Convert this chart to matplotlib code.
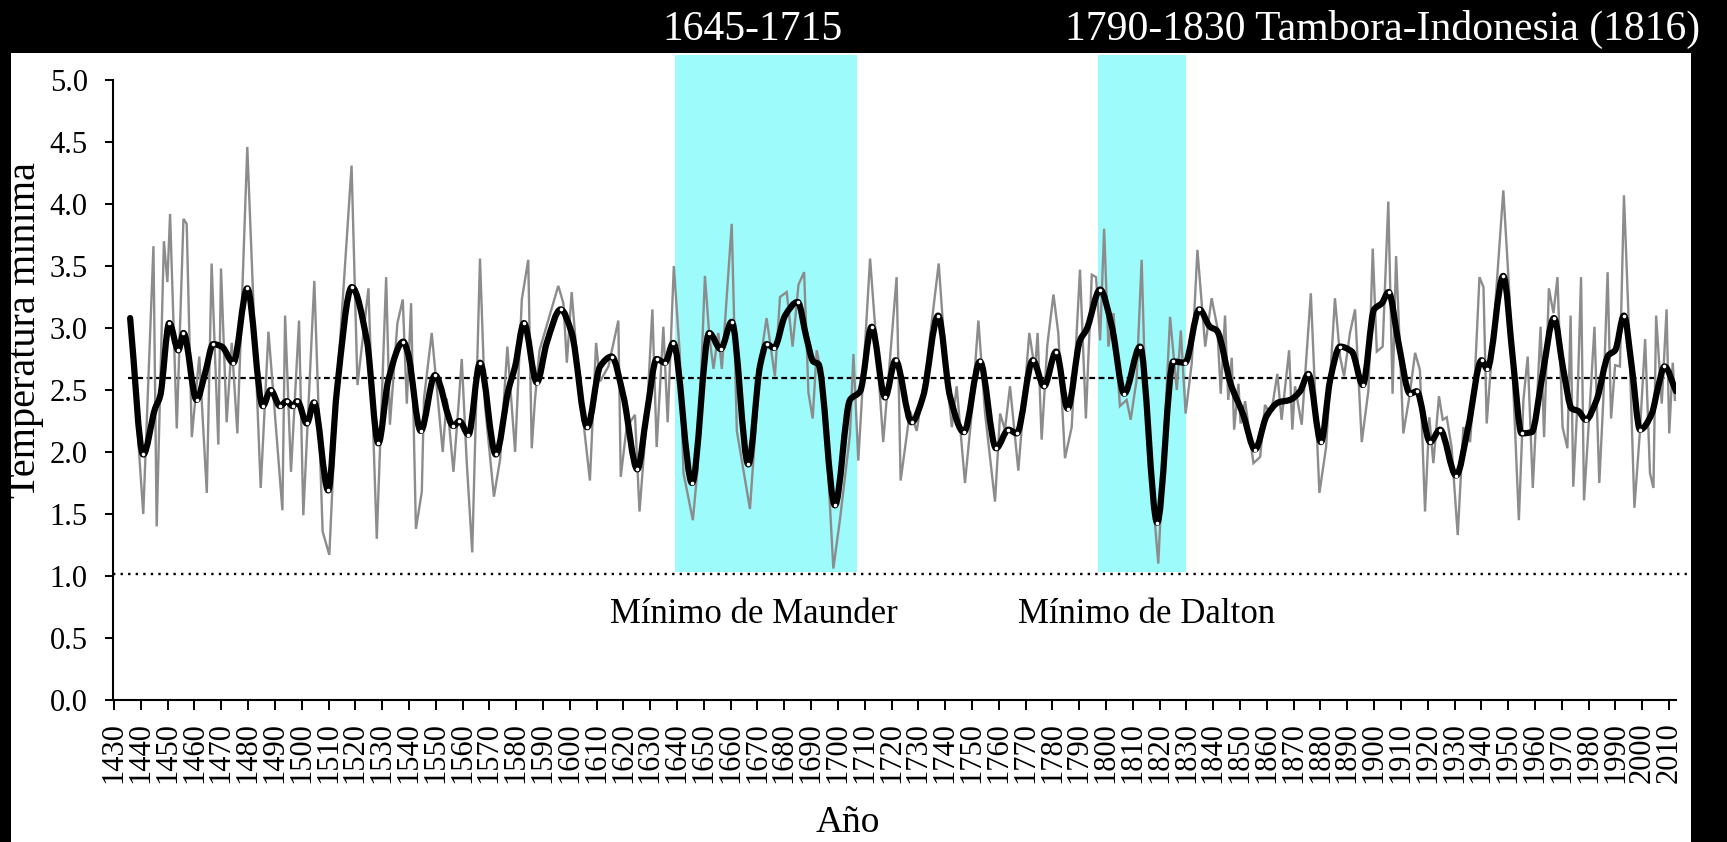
import numpy as np
import matplotlib
matplotlib.use("Agg")
import matplotlib.pyplot as plt
from matplotlib.path import Path
from matplotlib.patches import PathPatch, Rectangle

# ---------------- data ----------------
# annual minimum temperature (grey line): turning points of the series
annual_years = [
    1436.0, 1440.9, 1444.7, 1445.9, 1448.6, 1449.9, 1450.9, 1453.4, 1455.9, 1457.1,
    1459.0, 1461.8, 1464.6, 1466.4, 1468.9, 1469.9, 1472.0, 1473.9, 1476.0, 1479.7,
    1484.7, 1487.6, 1492.8, 1493.8, 1496.0, 1499.0, 1500.6, 1504.7, 1507.8, 1510.3,
    1513.1, 1518.6, 1520.8, 1524.9, 1528.0, 1531.5, 1532.9, 1535.7, 1537.7, 1539.2,
    1540.8, 1542.6, 1544.8, 1545.6, 1548.5, 1552.6, 1554.1, 1556.6, 1558.4, 1559.7,
    1561.5, 1563.6, 1566.5, 1568.4, 1571.7, 1574.0, 1576.7, 1579.6, 1582.1, 1584.5,
    1585.8, 1587.0, 1588.7, 1595.7, 1597.6, 1598.9, 1600.7, 1603.2, 1607.5, 1609.8,
    1611.3, 1614.4, 1618.1, 1619.0, 1621.2, 1624.3, 1626.0, 1628.7, 1630.8, 1632.4,
    1634.9, 1636.5, 1638.8, 1641.0, 1642.4, 1645.9, 1647.6, 1650.4, 1652.1, 1653.6,
    1655.4, 1656.7, 1660.4, 1662.3, 1667.2, 1671.0, 1673.4, 1676.5, 1678.4, 1680.9,
    1683.1, 1685.3, 1687.4, 1689.0, 1690.6, 1692.1, 1694.6, 1698.3, 1700.8, 1704.5,
    1705.8, 1707.6, 1712.0, 1714.2, 1716.9, 1721.9, 1723.4, 1726.9, 1729.4, 1733.1,
    1737.6, 1740.6, 1742.5, 1744.3, 1747.4, 1749.9, 1752.4, 1754.9, 1758.6, 1760.5,
    1762.3, 1764.2, 1767.3, 1771.4, 1773.5, 1774.5, 1776.0, 1778.1, 1780.4, 1782.2,
    1784.7, 1787.2, 1790.3, 1792.5, 1794.7, 1796.3, 1797.8, 1799.3, 1800.9, 1802.8,
    1805.2, 1807.7, 1809.2, 1811.4, 1813.3, 1814.9, 1819.5, 1823.9, 1826.4, 1827.9,
    1829.7, 1832.0, 1834.1, 1837.0, 1839.4, 1841.5, 1842.8, 1844.4, 1845.6, 1846.9,
    1847.8, 1849.4, 1850.2, 1851.9, 1855.0, 1857.5, 1859.3, 1861.2, 1862.4, 1863.9,
    1865.5, 1868.3, 1869.5, 1870.5, 1873.0, 1876.4, 1879.6, 1882.1, 1885.4, 1887.3,
    1888.8, 1891.0, 1892.9, 1895.4, 1897.9, 1899.5, 1901.0, 1903.2, 1905.3, 1906.9,
    1908.2, 1910.9, 1913.2, 1915.3, 1917.1, 1919.0, 1920.6, 1922.1, 1924.2, 1925.6,
    1927.1, 1928.9, 1931.2, 1933.3, 1935.8, 1937.7, 1939.3, 1940.8, 1942.0, 1944.2,
    1948.2, 1950.4, 1954.0, 1955.7, 1957.3, 1959.2, 1962.1, 1963.4, 1965.2, 1966.9,
    1968.4, 1970.3, 1972.1, 1973.3, 1974.3, 1975.8, 1977.2, 1978.3, 1980.3, 1982.2,
    1984.0, 1985.5, 1987.1, 1988.4, 1989.9, 1991.7, 1993.2, 1994.8, 1997.1, 1999.2,
    2001.1, 2002.9, 2004.2, 2005.2, 2007.3, 2009.1, 2010.1, 2011.4, 2012.2,
]
annual_temp = [
    3.06, 1.50, 3.66, 1.40, 3.70, 3.37, 3.92, 2.19, 3.88, 3.84,
    2.12, 2.77, 1.67, 3.52, 2.06, 3.48, 2.24, 2.88, 2.15, 4.46,
    1.71, 2.97, 1.53, 3.10, 1.84, 3.06, 1.49, 3.38, 1.36, 1.17,
    2.50, 4.31, 2.54, 3.32, 1.30, 3.41, 2.22, 3.04, 3.23, 2.39,
    3.20, 1.38, 1.68, 2.43, 2.96, 2.00, 2.43, 1.84, 2.35, 2.75,
    1.94, 1.19, 3.56, 2.37, 1.64, 1.94, 2.85, 2.00, 3.23, 3.55,
    2.03, 2.42, 2.82, 3.34, 3.20, 2.72, 3.29, 2.61, 1.77, 2.88,
    2.57, 2.69, 3.06, 1.80, 2.20, 2.30, 1.52, 2.28, 3.15, 2.04,
    3.01, 2.24, 3.50, 2.80, 1.83, 1.45, 1.85, 3.42, 2.92, 2.67,
    2.96, 2.67, 3.84, 2.17, 1.54, 2.73, 3.08, 2.61, 3.25, 3.29,
    2.85, 3.35, 3.45, 2.48, 2.27, 2.82, 2.54, 1.06, 1.46, 2.14,
    2.79, 1.93, 3.56, 2.92, 2.08, 3.41, 1.77, 2.33, 2.17, 2.70,
    3.52, 2.60, 2.20, 2.53, 1.75, 2.31, 3.06, 2.31, 1.60, 2.31,
    2.18, 2.53, 1.85, 2.96, 2.66, 2.96, 2.10, 2.86, 3.27, 2.96,
    1.95, 2.20, 3.47, 2.27, 3.43, 3.41, 2.90, 3.80, 2.85, 3.12,
    2.37, 2.42, 2.26, 2.58, 3.55, 2.31, 1.10, 3.09, 2.50, 2.98,
    2.31, 2.72, 3.63, 2.85, 3.24, 3.01, 2.47, 3.10, 2.42, 2.76,
    2.18, 2.55, 2.23, 2.41, 1.91, 1.96, 2.38, 2.31, 2.42, 2.63,
    2.26, 2.82, 2.18, 2.53, 2.22, 3.28, 1.67, 2.04, 3.24, 2.77,
    2.61, 2.96, 3.15, 2.08, 2.50, 3.64, 2.81, 2.85, 4.02, 2.47,
    3.58, 2.15, 2.45, 2.80, 2.66, 1.52, 2.28, 1.91, 2.45, 2.26,
    2.28, 2.04, 1.33, 2.20, 2.08, 2.66, 3.41, 3.33, 2.23, 2.88,
    4.11, 3.30, 1.45, 2.42, 2.77, 1.71, 3.01, 2.12, 3.32, 3.12,
    3.41, 2.20, 2.03, 3.10, 1.72, 2.37, 3.41, 1.61, 2.31, 3.01,
    1.75, 2.42, 3.45, 2.27, 2.70, 2.69, 4.07, 3.15, 1.55, 2.18,
    2.91, 1.83, 1.71, 3.10, 2.39, 3.15, 2.15, 2.72, 2.42,
]

# smoothed series (thick black line)
smooth_years = [
    1436.0, 1440.9, 1445.3, 1447.2, 1450.6, 1454.0, 1455.9, 1460.8, 1463.9, 1467.0,
    1470.2, 1474.5, 1479.7, 1485.5, 1488.4, 1491.9, 1494.4, 1496.6, 1498.4, 1501.9,
    1504.6, 1509.9, 1513.1, 1518.7, 1524.3, 1528.6, 1532.3, 1537.9, 1539.6, 1544.4,
    1549.7, 1556.6, 1558.8, 1562.2, 1566.5, 1572.4, 1577.1, 1579.6, 1582.9, 1587.7,
    1591.4, 1596.6, 1600.7, 1606.5, 1611.3, 1615.6, 1620.0, 1625.2, 1628.7, 1632.4,
    1635.5, 1638.6, 1645.6, 1652.0, 1656.3, 1660.4, 1666.6, 1671.0, 1673.4, 1676.2,
    1680.3, 1685.0, 1688.3, 1690.8, 1692.7, 1698.9, 1704.5, 1708.3, 1712.6, 1717.6,
    1721.5, 1727.5, 1731.8, 1737.4, 1741.8, 1747.0, 1753.0, 1759.0, 1763.6, 1766.7,
    1772.7, 1776.9, 1781.4, 1785.7, 1790.3, 1792.8, 1797.8, 1802.2, 1806.8, 1812.7,
    1819.1, 1825.1, 1829.5, 1834.8, 1838.8, 1841.3, 1846.5, 1851.2, 1855.6, 1859.9,
    1864.3, 1868.6, 1872.4, 1875.5, 1880.2, 1883.6, 1887.3, 1891.7, 1895.8, 1900.0,
    1902.9, 1905.4, 1909.1, 1913.4, 1915.9, 1920.9, 1924.6, 1930.6, 1935.1, 1940.1,
    1942.2, 1948.2, 1951.9, 1955.0, 1958.8, 1962.5, 1967.1, 1970.6, 1973.7, 1976.2,
    1979.0, 1983.0, 1987.4, 1989.9, 1993.2, 1996.1, 1999.2, 2003.6, 2006.0, 2008.3,
    2012.6,
]
smooth_temp = [
    3.08, 1.98, 2.35, 2.45, 3.04, 2.82, 2.96, 2.42, 2.63, 2.87,
    2.85, 2.72, 3.32, 2.37, 2.50, 2.37, 2.41, 2.37, 2.41, 2.23,
    2.40, 1.69, 2.49, 3.33, 2.90, 2.07, 2.58, 2.89, 2.80, 2.17,
    2.62, 2.21, 2.25, 2.14, 2.72, 1.98, 2.50, 2.69, 3.04, 2.56,
    2.88, 3.15, 2.96, 2.20, 2.69, 2.77, 2.45, 1.86, 2.31, 2.75,
    2.72, 2.88, 1.75, 2.96, 2.83, 3.05, 1.90, 2.70, 2.87, 2.84,
    3.10, 3.21, 2.92, 2.73, 2.71, 1.57, 2.42, 2.49, 3.01, 2.44,
    2.74, 2.24, 2.45, 3.10, 2.45, 2.16, 2.73, 2.03, 2.18, 2.15,
    2.74, 2.53, 2.81, 2.35, 2.90, 2.99, 3.31, 3.01, 2.47, 2.85,
    1.43, 2.73, 2.72, 3.15, 3.01, 2.98, 2.55, 2.30, 2.02, 2.29,
    2.40, 2.42, 2.49, 2.63, 2.08, 2.58, 2.85, 2.81, 2.54, 3.15,
    3.20, 3.29, 2.88, 2.47, 2.49, 2.08, 2.18, 1.81, 2.20, 2.74,
    2.67, 3.42, 2.72, 2.15, 2.16, 2.58, 3.08, 2.66, 2.35, 2.33,
    2.26, 2.42, 2.78, 2.82, 3.10, 2.69, 2.18, 2.31, 2.53, 2.69,
    2.49,
]

mean_level = 2.6          # long-term mean (dashed)
threshold_level = 1.02    # lower reference (dotted)

band_start = [1639.2, 1797.2]
band_end = [1707.1, 1829.9]
band_titles = ["1645-1715", "1790-1830 Tambora-Indonesia (1816)"]
band_labels = ["Mínimo de Maunder", "Mínimo de Dalton"]

x_ticks = list(range(1430, 2011, 10))
y_ticks = [0.0, 0.5, 1.0, 1.5, 2.0, 2.5, 3.0, 3.5, 4.0, 4.5, 5.0]

# ---------------- helpers ----------------
def monotone_bezier(x, y):
    """Piecewise cubic (Fritsch-Carlson slopes) through the knots, as a Path."""
    x = np.asarray(x, float)
    y = np.asarray(y, float)
    h = np.diff(x)
    d = np.diff(y) / h
    m = np.zeros_like(y)
    m[0], m[-1] = d[0], d[-1]
    for i in range(1, len(y) - 1):
        if d[i - 1] * d[i] > 0:
            w1 = 2 * h[i] + h[i - 1]
            w2 = h[i] + 2 * h[i - 1]
            m[i] = (w1 + w2) / (w1 / d[i - 1] + w2 / d[i])
    verts = [(x[0], y[0])]
    codes = [Path.MOVETO]
    for i in range(len(x) - 1):
        verts += [(x[i] + h[i] / 3, y[i] + m[i] * h[i] / 3),
                  (x[i + 1] - h[i] / 3, y[i + 1] - m[i + 1] * h[i] / 3),
                  (x[i + 1], y[i + 1])]
        codes += [Path.CURVE4] * 3
    return Path(verts, codes)


# ---------------- figure ----------------
plt.rcParams["font.family"] = ["Liberation Serif", "DejaVu Serif"]

W, H = 1727, 842
fig = plt.figure(figsize=(W / 100, H / 100), dpi=100, facecolor="black")
fig.patches.append(Rectangle((11 / W, 0), (1691 - 11) / W, (H - 53) / H,
                             transform=fig.transFigure, facecolor="white",
                             edgecolor="none", zorder=-5))

ax = fig.add_axes([112.7 / W, 142 / H, 1563 / W, 644.8 / H])
ax.patch.set_visible(False)
ax.set_xlim(1429.5, 2012.5)
ax.set_ylim(0, 5.2)

# shaded solar-minimum periods
for s, e in zip(band_start, band_end):
    ax.fill_between([s, e], threshold_level + 0.01, 5.2, color="#9dfbfb",
                    linewidth=0, zorder=1)

# reference levels
ax.plot([smooth_years[0] - 0.7, smooth_years[-1]], [mean_level, mean_level],
        color="black", lw=1.6, linestyle=(0, (2.6, 1.6)), zorder=2)
ax.plot([1429.5, 2018.5], [threshold_level, threshold_level], color="black",
        lw=1.7, linestyle=(0, (1, 2.2)), zorder=2, clip_on=False)

# annual series
ax.plot(annual_years, annual_temp, color="#8c8c8c", lw=1.7, zorder=3,
        solid_joinstyle="miter")

# smoothed series
ax.add_patch(PathPatch(monotone_bezier(smooth_years, smooth_temp), facecolor="none",
                       edgecolor="black", lw=4.5, joinstyle="round",
                       capstyle="round", zorder=4))
sv = np.asarray(smooth_temp)
turn = np.zeros(len(sv), bool)
turn[1:-1] = (np.sign(sv[1:-1] - sv[:-2]) * np.sign(sv[2:] - sv[1:-1])) < 0
ax.plot(np.asarray(smooth_years)[turn], sv[turn], "o", ms=2.6, mfc="white",
        mec="white", mew=0, zorder=5)

# axes styling
for side in ("top", "right"):
    ax.spines[side].set_visible(False)
ax.spines["left"].set_bounds(0, 5)
ax.spines["left"].set_linewidth(1.5)
ax.spines["bottom"].set_linewidth(1.5)

ax.set_yticks(y_ticks)
ax.set_yticklabels([f"{v:.1f}" for v in y_ticks])
ax.set_xticks(x_ticks)
ax.set_xticklabels([str(t) for t in x_ticks], rotation=90)
ax.tick_params(axis="y", direction="out", length=6, width=1.4, labelsize=22,
               pad=12, colors="black")
ax.tick_params(axis="x", direction="out", length=7.2, width=1.4, labelsize=22,
               pad=8.6, colors="black")

# axis titles
fig.text(26 / W, 0.608, "Temperatura mínima", rotation=90, ha="center",
         va="center", fontsize=29, color="black")
fig.text(848 / W, 0.023, "Año", ha="center", va="center", fontsize=27,
         color="black")

# band annotations
fig.text(662 / W, (H - 40) / H, band_titles[0], ha="left", va="baseline",
         fontsize=30, color="white")
fig.text(1065 / W, (H - 40) / H, band_titles[1], ha="left", va="baseline",
         fontsize=30, color="white")
fig.text(754 / W, (H - 623) / H, band_labels[0], ha="center", va="baseline",
         fontsize=25, color="black")
fig.text(1147 / W, (H - 623) / H, band_labels[1], ha="center", va="baseline",
         fontsize=25, color="black")

fig.savefig("out.png", dpi=100, facecolor="black")
